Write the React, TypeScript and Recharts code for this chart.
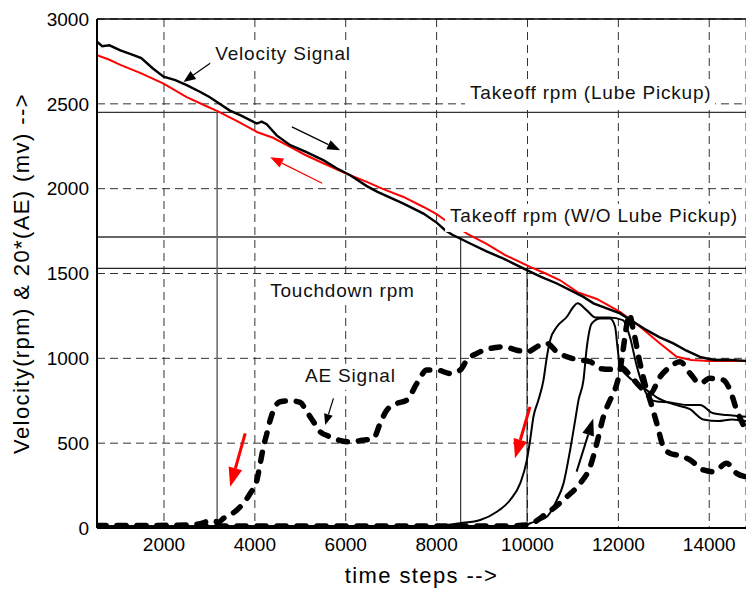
import React from 'react';
import { LineChart, Line, XAxis, YAxis, CartesianGrid, ReferenceLine, ReferenceDot } from 'recharts';

const FONT = '"Liberation Sans", Arial, Helvetica, sans-serif';

const xTicks = [2000, 4000, 6000, 8000, 10000, 12000, 14000];
const yTicks = [0, 500, 1000, 1500, 2000, 2500, 3000];

// velocity traces (rpm), [time step, value]
const velocityBlack: [number, number][] = [
  [526, 2866], [640, 2840], [800, 2845], [1040, 2815], [1300, 2790], [1500, 2770], [1750, 2710],
  [1991, 2660], [2250, 2640], [2500, 2610], [2800, 2570], [3000, 2540], [3166, 2511], [3450, 2460],
  [3700, 2430], [4046, 2384], [4150, 2395], [4260, 2380], [4480, 2314], [4778, 2256], [5100, 2220],
  [5505, 2168], [5800, 2120], [6098, 2079], [6464, 2015], [6700, 1981], [7271, 1912], [7711, 1853],
  [8000, 1800], [8189, 1755], [8336, 1730], [8739, 1677], [9100, 1630], [9472, 1588], [9986, 1520],
  [10300, 1480], [10647, 1441], [11232, 1362], [11452, 1324], [12037, 1265], [12330, 1215],
  [12624, 1166], [12900, 1125], [13210, 1088], [13500, 1045], [13797, 1009], [14090, 990],
  [14400, 992], [14809, 985],
];
const velocityRed: [number, number][] = [
  [526, 2786], [800, 2760], [1040, 2730], [1500, 2680], [1991, 2619], [2500, 2540], [2900, 2490],
  [3166, 2458], [3600, 2400], [4046, 2334], [4400, 2300], [4778, 2246], [5100, 2200], [5505, 2150],
  [6098, 2079], [6464, 2040], [6800, 2000], [7271, 1951], [7711, 1892], [8000, 1850], [8189, 1814],
  [8450, 1775], [8698, 1730], [9100, 1675], [9500, 1610], [10058, 1539], [10400, 1500],
  [10719, 1460], [11100, 1390], [11526, 1350], [12037, 1274], [12477, 1186], [12917, 1088],
  [13285, 1009], [13600, 990], [14000, 985], [14809, 985],
];

// AE traces (20 x mV)
const aeDashedA: [number, number][] = [
  [526, 15], [1500, 15], [2500, 18], [2800, 25], [3050, 45], [3200, 35], [3311, 57], [3605, 106],
  [3898, 204], [4046, 283], [4118, 381], [4190, 479], [4265, 558], [4338, 636], [4410, 695],
  [4558, 744], [4778, 750], [4998, 740], [5145, 685], [5290, 626], [5437, 567], [5657, 538],
  [6024, 508], [6391, 518], [6611, 528], [6758, 617], [6905, 695], [7125, 734], [7345, 754],
  [7565, 852], [7785, 931], [8005, 931], [8299, 911], [8519, 931], [8666, 990], [8886, 1029],
  [9180, 1058], [9472, 1068], [9766, 1048], [9986, 1038], [10279, 1078], [10427, 1088],
  [10647, 1038], [10867, 1009], [11159, 990], [11379, 980], [11600, 940], [11818, 935],
  [12037, 950], [12257, 900], [12477, 832], [12697, 793], [12917, 891], [13137, 950],
  [13357, 980], [13577, 911], [13797, 852], [14017, 882], [14310, 872], [14457, 813],
  [14604, 695], [14809, 577],
];
const aeDashedB: [number, number][] = [
  [526, 12], [9500, 12], [9986, 18], [10427, 87], [10867, 184], [11159, 263], [11379, 361],
  [11526, 499], [11671, 656], [11818, 754], [11891, 793], [12037, 931], [12110, 1060],
  [12185, 1200], [12240, 1260], [12330, 1166], [12477, 970], [12624, 813], [12697, 754],
  [12845, 617], [12990, 479], [13137, 440], [13285, 430], [13577, 401], [13870, 342],
  [14090, 332], [14385, 381], [14604, 322], [14809, 302],
];
const aeSolidA: [number, number][] = [
  [526, 10], [8000, 12], [8519, 28], [8959, 47], [9326, 96], [9619, 165], [9839, 263],
  [9986, 400], [10058, 518], [10131, 656], [10241, 754], [10352, 872], [10427, 1009],
  [10499, 1107], [10647, 1186], [10867, 1245], [11012, 1304], [11100, 1324], [11300, 1284],
  [11500, 1240], [11800, 1240], [12100, 1225], [12250, 1130], [12400, 960], [12550, 830],
  [12700, 760], [12845, 745], [13137, 740], [13505, 725], [13797, 725], [14090, 676],
  [14385, 666], [14809, 656],
];
const aeSolidB: [number, number][] = [
  [526, 10], [9900, 12], [10058, 28], [10427, 67], [10647, 165], [10793, 263], [10939, 460],
  [11050, 636], [11123, 754], [11232, 872], [11307, 1068], [11416, 1206], [11598, 1235],
  [11818, 1235], [11928, 1186], [11980, 1068], [12037, 950], [12185, 900], [12405, 852],
  [12624, 813], [12845, 770], [13200, 730], [13577, 700], [13870, 640], [14200, 630],
  [14500, 640], [14809, 630],
];

// threshold speeds
const takeoffLube = 2450;
const takeoffDry = 1715;
const touchdown = 1530;
const dropLines = [
  { x: 3170, y: takeoffLube },
  { x: 8530, y: takeoffDry },
  { x: 9990, y: touchdown },
];

const notes = [
  { text: 'Velocity Signal', x: 3128, y: 2757, w: 146, below: 8 },
  { text: 'Takeoff rpm (Lube Pickup)', x: 8736, y: 2531, w: 250, below: 8 },
  { text: 'Takeoff rpm (W/O Lube Pickup)', x: 8296, y: 1804, w: 298, below: 10 },
  { text: 'Touchdown rpm', x: 4337, y: 1361, w: 150, below: 8 },
  { text: 'AE Signal', x: 5105, y: 862, w: 98, below: 8 },
];

const arrows = [
  { from: [3056, 2747], to: [2431, 2629], color: '#000', w: 1.2, len: 12, half: 5 },
  { from: [4815, 2364], to: [5877, 2226], color: '#000', w: 1.2, len: 13, half: 5 },
  { from: [5481, 2032], to: [4338, 2185], color: '#ff0000', w: 1.2, len: 13, half: 5 },
  { from: [5730, 764], to: [5547, 607], color: '#000', w: 1.2, len: 11, half: 4.5 },
  { from: [3788, 558], to: [3458, 243], color: '#ff0000', w: 3, len: 19, half: 7 },
  { from: [10055, 714], to: [9725, 411], color: '#ff0000', w: 3, len: 19, half: 7 },
  { from: [11082, 332], to: [11447, 646], color: '#000', w: 2, len: 17, half: 6 },
];

const toPts = (s: [number, number][]) => s.map(([x, y]) => ({ x, y }));

const arrowShape = (color: string, w: number, len: number, half: number) => (p: any) => {
  const { x1, y1, x2, y2 } = p;
  const dx = x2 - x1;
  const dy = y2 - y1;
  const d = Math.hypot(dx, dy) || 1;
  const ux = dx / d;
  const uy = dy / d;
  const bx = x2 - ux * len;
  const by = y2 - uy * len;
  return (
    <g>
      <line x1={x1} y1={y1} x2={bx} y2={by} stroke={color} strokeWidth={w} />
      <polygon
        points={`${x2},${y2} ${bx - uy * half},${by + ux * half} ${bx + uy * half},${by - ux * half}`}
        fill={color}
      />
    </g>
  );
};

const noteShape = (n: (typeof notes)[number]) => (p: any) => (
  <g>
    <rect x={p.cx - 5} y={p.cy - 18} width={n.w} height={18 + n.below} fill="#fff" />
    <text x={p.cx} y={p.cy} fontSize={19} letterSpacing={0.8} fontFamily={FONT} fill="#111">
      {n.text}
    </text>
  </g>
);

const dashedStyle = { stroke: '#000', strokeWidth: 5.5, strokeDasharray: '9 11', strokeLinecap: 'round' as const };

export default function App() {
  return (
    <div style={{ position: 'absolute', left: 0, top: 0, width: 746, height: 595, background: '#fff' }}>
      <LineChart width={746} height={595} margin={{ top: 19, right: 0, bottom: 0, left: 0 }}>
        <CartesianGrid stroke="#333" strokeWidth={1} strokeDasharray="8 5" />
        <XAxis
          type="number"
          dataKey="x"
          domain={[526, 14809]}
          ticks={xTicks}
          allowDataOverflow
          height={67}
          tickLine={false}
          tickMargin={4}
          axisLine={{ stroke: '#000', strokeWidth: 2 }}
          tick={{ fill: '#000', fontSize: 19, fontFamily: FONT }}
          label={{
            value: 'time steps -->',
            position: 'insideBottom',
            offset: 12,
            style: { fontSize: 22, letterSpacing: 1.4, fill: '#000', fontFamily: FONT },
          }}
        />
        <YAxis
          type="number"
          domain={[0, 3000]}
          ticks={yTicks}
          allowDataOverflow
          width={97}
          tickLine={false}
          axisLine={{ stroke: '#000', strokeWidth: 2 }}
          tick={{ fill: '#000', fontSize: 19, fontFamily: FONT }}
          label={{
            value: 'Velocity(rpm) & 20*(AE) (mv) -->',
            angle: -90,
            position: 'insideLeft',
            offset: 21,
            style: { textAnchor: 'middle', fontSize: 22, letterSpacing: 1.4, fill: '#000', fontFamily: FONT },
          }}
        />
        <ReferenceLine y={3000} stroke="#000" strokeWidth={1.5} />
        <ReferenceLine y={takeoffLube} stroke="#333" strokeWidth={1.3} />
        <ReferenceLine y={takeoffDry} stroke="#333" strokeWidth={1.3} />
        <ReferenceLine y={touchdown} stroke="#222" strokeWidth={1.3} />
        {dropLines.map((d, i) => (
          <ReferenceLine
            key={'drop' + i}
            segment={[{ x: d.x, y: 0 }, { x: d.x, y: d.y }]}
            stroke={i === 0 ? '#666' : '#111'}
            strokeWidth={i === 0 ? 1.5 : 1}
          />
        ))}

        <Line data={toPts(velocityRed)} dataKey="y" type="linear" stroke="#ff0000" strokeWidth={2} dot={false} activeDot={false} isAnimationActive={false} />
        <Line data={toPts(velocityBlack)} dataKey="y" type="linear" stroke="#000" strokeWidth={2.4} dot={false} activeDot={false} isAnimationActive={false} />

        <Line data={toPts(aeSolidA)} dataKey="y" type="monotone" stroke="#000" strokeWidth={2} dot={false} activeDot={false} isAnimationActive={false} />
        <Line data={toPts(aeSolidB)} dataKey="y" type="monotone" stroke="#000" strokeWidth={2} dot={false} activeDot={false} isAnimationActive={false} />
        <Line data={toPts(aeDashedA)} dataKey="y" type="monotone" {...dashedStyle} dot={false} activeDot={false} isAnimationActive={false} />
        <Line data={toPts(aeDashedB)} dataKey="y" type="monotone" {...dashedStyle} dot={false} activeDot={false} isAnimationActive={false} />

        {arrows.map((a, i) => (
          <ReferenceLine
            key={'arrow' + i}
            segment={[{ x: a.from[0], y: a.from[1] }, { x: a.to[0], y: a.to[1] }]}
            shape={arrowShape(a.color, a.w, a.len, a.half)}
          />
        ))}
        {notes.map((n, i) => (
          <ReferenceDot key={'note' + i} x={n.x} y={n.y} r={0} shape={noteShape(n)} />
        ))}
      </LineChart>
    </div>
  );
}
